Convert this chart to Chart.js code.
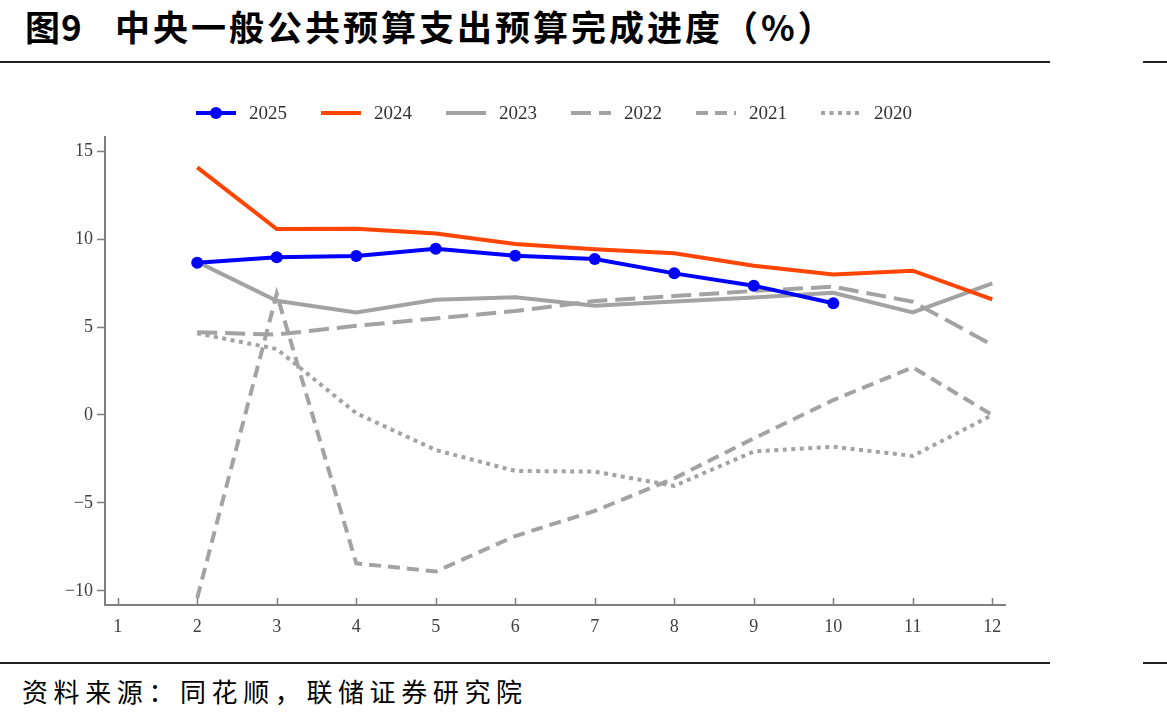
<!DOCTYPE html>
<html><head><meta charset="utf-8">
<script src="https://cdn.jsdelivr.net/npm/chart.js@4/dist/chart.umd.min.js"></script>
<style>
html,body{margin:0;padding:0;background:#fff;width:1167px;height:724px;overflow:hidden;position:relative;}
#c{position:absolute;left:0;top:0;}
.title{position:absolute;left:25px;top:0px;font-family:"Noto Sans CJK SC";font-weight:700;font-size:35px;line-height:52px;color:#000;white-space:nowrap;}
.title .a{letter-spacing:1px;}
.title .b{position:absolute;left:90px;top:0;letter-spacing:3px;}
.rule{position:absolute;height:2px;background:#222;}
.foot{position:absolute;left:22px;top:673px;font-family:"Noto Sans CJK SC";font-weight:400;font-size:26px;line-height:36px;letter-spacing:5.6px;color:#000;white-space:nowrap;}
</style></head>
<body>
<div class="title"><span class="a">图9</span><span class="b">中央一般公共预算支出预算完成进度（%）</span></div>
<div class="rule" style="left:0;top:61px;width:1050px;"></div>
<div class="rule" style="left:1143px;top:61px;width:24px;"></div>
<div class="rule" style="left:0;top:662px;width:1050px;"></div>
<div class="rule" style="left:1143px;top:662px;width:24px;"></div>
<div class="foot">资料来源：同花顺，联储证券研究院</div>
<canvas id="c" width="1167" height="724"></canvas>
<script>
const months = [1,2,3,4,5,6,7,8,9,10,11,12];
const xTicks = [1,2,3,4,5,6,7,8,9,10,11,12];
const yTicks = [-10,-5,0,5,10,15];
const seriesNames = ['2025','2024','2023','2022','2021','2020'];
const v2025 = [null,8.65,8.96,9.03,9.45,9.05,8.86,8.05,7.35,6.35,null,null];
const v2024 = [null,14.07,10.57,10.59,10.32,9.72,9.42,9.19,8.48,7.99,8.20,6.57];
const v2023 = [null,8.70,6.49,5.83,6.55,6.69,6.21,6.45,6.68,6.95,5.83,7.48];
const v2022 = [null,4.70,4.57,5.07,5.49,5.91,6.48,6.76,7.05,7.29,6.44,3.98];
const v2021 = [null,-10.4,6.88,-8.43,-8.90,-6.88,-5.45,-3.60,-1.33,0.85,2.71,0.0];
const v2020 = [null,4.64,3.75,0.10,-1.99,-3.18,-3.22,-4.03,-2.08,-1.80,-2.33,0.0];

const pts = arr => months.map((m,i)=>({x:m,y:arr[i]}));
const GRAY = '#a3a3a3';
const datasets = [
  {label:seriesNames[0],data:pts(v2025),borderColor:'#0000ff',backgroundColor:'#0000ff',borderWidth:4,pointRadius:6,pointBackgroundColor:'#0000ff',pointBorderWidth:0,order:0},
  {label:seriesNames[1],data:pts(v2024),borderColor:'#ff4500',borderWidth:4,pointRadius:0,order:1},
  {label:seriesNames[2],data:pts(v2023),borderColor:GRAY,borderWidth:4,pointRadius:0,order:2},
  {label:seriesNames[3],data:pts(v2022),borderColor:GRAY,borderWidth:4,borderDash:[20,8],pointRadius:0,order:3},
  {label:seriesNames[4],data:pts(v2021),borderColor:GRAY,borderWidth:4,borderDash:[12,7],pointRadius:0,order:4},
  {label:seriesNames[5],data:pts(v2020),borderColor:GRAY,borderWidth:4,borderDash:[4,4.5],pointRadius:0,order:5}
];

const legendPlugin = {
  id:'customLegend',
  afterDraw(chart){
    const ctx = chart.ctx, ca = chart.chartArea;
    const step = 125, sample = 40, gap = 13, textW = 40;
    const total = (datasets.length-1)*step + sample + gap + textW;
    let x = (ca.left+ca.right)/2 - total/2;
    const y = 113;
    ctx.save();
    chart.data.datasets.forEach(ds=>{
      ctx.setLineDash(ds.borderDash||[]);
      ctx.lineWidth = ds.borderWidth;
      ctx.strokeStyle = ds.borderColor;
      ctx.lineCap = 'butt';
      ctx.beginPath(); ctx.moveTo(x,y); ctx.lineTo(x+sample,y); ctx.stroke();
      ctx.setLineDash([]);
      if (ds.pointRadius>0){
        ctx.fillStyle = ds.pointBackgroundColor;
        ctx.beginPath(); ctx.arc(x+sample/2,y,ds.pointRadius,0,Math.PI*2); ctx.fill();
      }
      ctx.fillStyle = '#333';
      ctx.font = '19px "Liberation Serif"';
      ctx.textBaseline = 'middle';
      ctx.textAlign = 'left';
      ctx.fillText(ds.label, x+sample+gap, y+1);
      x += step;
    });
    ctx.restore();
  }
};

const innerTicks = {
  id:'innerTicks',
  afterDraw(chart){
    const ctx = chart.ctx, sx = chart.scales.x, ca = chart.chartArea;
    ctx.save();
    ctx.strokeStyle = '#7f7f7f'; ctx.lineWidth = 1.5;
    sx.ticks.forEach(t=>{
      const px = Math.round(sx.getPixelForValue(t.value))+0.5;
      ctx.beginPath(); ctx.moveTo(px,ca.bottom); ctx.lineTo(px,ca.bottom-7); ctx.stroke();
    });
    ctx.restore();
  }
};

new Chart(document.getElementById('c'),{
  type:'line',
  data:{datasets},
  options:{
    responsive:false,
    animation:false,
    layout:{padding:{left:0,top:137,right:162,bottom:89}},
    plugins:{legend:{display:false},tooltip:{enabled:false}},
    elements:{line:{tension:0,borderJoinStyle:'miter'}},
    scales:{
      x:{
        type:'linear',min:0.84,max:12.16,
        afterBuildTicks:s=>{s.ticks = xTicks.map(v=>({value:v}));},
        afterFit:s=>{s.height = 30;},
        border:{display:true,color:'#7f7f7f',width:2},
        grid:{display:true,drawOnChartArea:false,drawTicks:false},
        ticks:{padding:11,color:'#404040',font:{family:'Liberation Serif',size:18},maxRotation:0,autoSkip:false}
      },
      y:{
        min:-10.8,max:15.8,
        afterBuildTicks:s=>{s.ticks = yTicks.map(v=>({value:v}));},
        afterFit:s=>{s.width = 105;},
        border:{display:true,color:'#7f7f7f',width:2},
        grid:{display:true,drawOnChartArea:false,drawTicks:true,tickLength:8,tickColor:'#7f7f7f',tickWidth:1.5},
        ticks:{padding:4,color:'#404040',font:{family:'Liberation Serif',size:18},
          callback:v=> v<0 ? '\u2212'+Math.abs(v) : String(v)}
      }
    }
  },
  plugins:[legendPlugin,innerTicks]
});
</script>
</body></html>
